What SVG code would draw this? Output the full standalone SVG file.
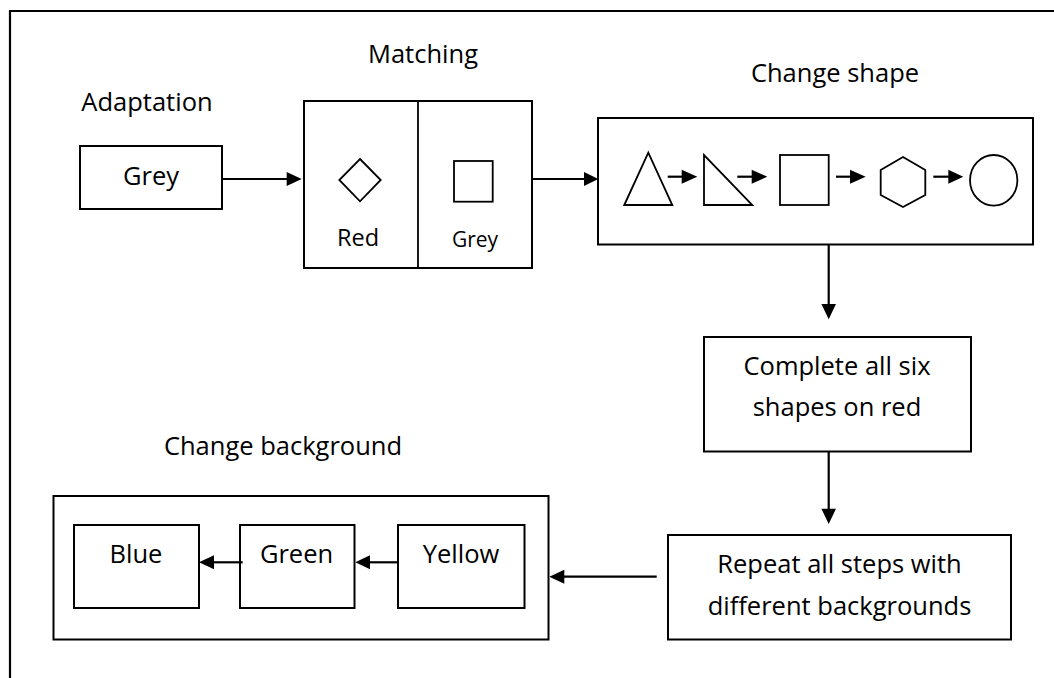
<svg xmlns="http://www.w3.org/2000/svg" width="1054" height="678" viewBox="0 0 1054 678">
<style>
text{font-family:"Open Sans","Noto Sans","Liberation Sans",sans-serif;font-size:25.5px;fill:#000;text-anchor:middle}
.box{fill:#fff;stroke:#000;stroke-width:2}
.shp{fill:none;stroke:#000;stroke-width:1.8}
.ln{fill:none;stroke:#000;stroke-width:2.2}
.hd{fill:#000;stroke:none}
</style>
<rect width="1054" height="678" fill="#fff"/>
<path d="M10 678 V11 H1054" fill="none" stroke="#000" stroke-width="2.2"/>
<g id="adaptation">
<text x="147" y="111">Adaptation</text>
<rect class="box" x="80" y="146" width="142" height="63"/>
<text x="151" y="185">Grey</text>
</g>
<g id="matching">
<text x="423" y="63">Matching</text>
<rect class="box" x="304" y="101" width="228" height="167"/>
<line class="shp" x1="418" y1="101" x2="418" y2="268"/>
<polygon class="shp" points="360,159 380.7,180 360,201.3 339.3,180"/>
<text x="358" y="245.5" style="font-size:23.5px">Red</text>
<rect class="shp" x="454" y="161" width="38.7" height="40.7"/>
<text x="475" y="246.5" style="font-size:21px">Grey</text>
</g>
<g id="change-shape">
<text x="835" y="81.5">Change shape</text>
<rect class="box" x="598" y="118" width="435" height="126.5"/>
<polygon class="shp" points="624.3,205 648.3,152.7 672.3,205"/>
<polygon class="shp" points="704,155 704,205 752.3,205"/>
<rect class="shp" x="780" y="155" width="48.7" height="50"/>
<polygon class="shp" points="903,157 925.3,170 925.3,195 903,207 880.7,195 880.7,170"/>
<ellipse class="shp" cx="993.7" cy="180.3" rx="23.7" ry="25.3"/>
<g id="shape-arrows">
<line class="ln" x1="667.7" y1="176.7" x2="683" y2="176.7"/><polygon class="hd" points="681.7,169.7 697.3,176.7 681.7,183.7"/>
<line class="ln" x1="737.3" y1="176.7" x2="753" y2="176.7"/><polygon class="hd" points="751.7,169.7 767.3,176.7 751.7,183.7"/>
<line class="ln" x1="836" y1="176.7" x2="851" y2="176.7"/><polygon class="hd" points="850,169.7 865.7,176.7 850,183.7"/>
<line class="ln" x1="933.3" y1="176.7" x2="949" y2="176.7"/><polygon class="hd" points="948.3,169.7 963.3,176.7 948.3,183.7"/>
</g>
</g>
<g id="complete">
<rect class="box" x="704" y="337" width="267" height="114.5"/>
<text x="837" y="375">Complete all six</text>
<text x="837" y="416">shapes on red</text>
</g>
<g id="repeat">
<rect class="box" x="668" y="535" width="343" height="104.5"/>
<text x="839.5" y="573.3">Repeat all steps with</text>
<text x="839.5" y="615">different backgrounds</text>
</g>
<g id="change-background">
<text x="283" y="455">Change background</text>
<rect class="box" x="53.5" y="496" width="495" height="143.5"/>
<g id="blue"><rect class="box" x="74" y="525" width="125" height="83"/><text x="136" y="562.7">Blue</text></g>
<g id="green"><rect class="box" x="240" y="525" width="114.5" height="83"/><text x="296.5" y="562.7">Green</text></g>
<g id="yellow"><rect class="box" x="398" y="525" width="126.5" height="83"/><text x="461" y="562.7">Yellow</text></g>
<g id="bg-arrows">
<line class="ln" x1="242.7" y1="562.3" x2="213" y2="562.3"/><polygon class="hd" points="214,555.3 199,562.3 214,569.3"/>
<line class="ln" x1="399" y1="562.3" x2="369" y2="562.3"/><polygon class="hd" points="370,555.3 355.3,562.3 370,569.3"/>
</g>
</g>
<g id="connectors">
<line class="ln" x1="222" y1="179" x2="288" y2="179"/><polygon class="hd" points="286.7,172 301.7,179 286.7,186"/>
<line class="ln" x1="532" y1="179" x2="585" y2="179"/><polygon class="hd" points="584,172 598.3,179 584,186"/>
<line class="ln" x1="828.7" y1="244.5" x2="828.7" y2="305"/><polygon class="hd" points="821.4,304 828.7,319.3 836,304"/>
<line class="ln" x1="828.7" y1="451.5" x2="828.7" y2="510"/><polygon class="hd" points="821.4,508.7 828.7,524 836,508.7"/>
<line class="ln" x1="656.7" y1="576.7" x2="563" y2="576.7"/><polygon class="hd" points="564.3,569.7 549.3,576.7 564.3,583.7"/>
</g>
</svg>
